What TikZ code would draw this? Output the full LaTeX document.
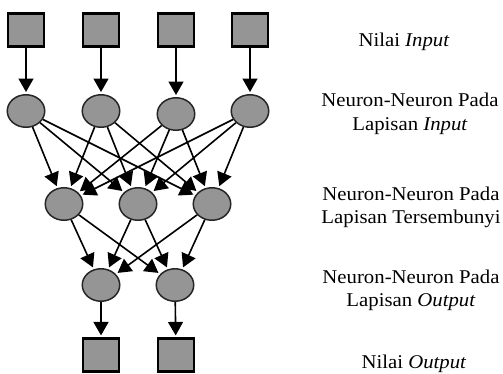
\documentclass[tikz,border=0pt]{standalone}
\usepackage{fontspec}
\setmainfont{Liberation Serif}[FakeStretch=1.065]
\usetikzlibrary{arrows.meta,shapes.geometric}
\definecolor{nodegray}{HTML}{959595}
\tikzset{
  valbox/.style={rectangle,draw=black,line width=2.2pt,fill=nodegray,minimum width=36pt,minimum height=33pt,inner sep=0pt},
  neuron/.style={ellipse,draw=black!85,line width=1.5pt,fill=nodegray,minimum width=37.5pt,minimum height=32.5pt,inner sep=0pt},
  conn/.style={line width=1.6pt,-{Triangle[length=13.5pt,width=15pt]},shorten >=2pt},
  lab/.style={anchor=base,inner sep=0pt,font=\fontsize{19.5}{23.5}\selectfont}
}
\begin{document}
\begin{tikzpicture}[x=1pt,y=-1pt]
\useasboundingbox (0,0) rectangle (503,373);
% input values
\node[valbox] (i1) at (26,30) {};
\node[valbox] (i2) at (101,30) {};
\node[valbox] (i3) at (176,30) {};
\node[valbox] (i4) at (250,30) {};
% input layer
\node[neuron] (a1) at (26,111) {};
\node[neuron] (a2) at (101,111) {};
\node[neuron] (a3) at (176,114) {};
\node[neuron] (a4) at (250,111) {};
% hidden layer
\node[neuron] (h1) at (64,204) {};
\node[neuron] (h2) at (138,204) {};
\node[neuron] (h3) at (212,204) {};
% output layer
\node[neuron] (o1) at (101,285) {};
\node[neuron] (o2) at (175,285) {};
% output values
\node[valbox] (v1) at (101,355) {};
\node[valbox] (v2) at (176,355) {};
% connectors
\foreach \k in {1,2,3,4} \draw[conn] (i\k) -- (a\k);
\foreach \k in {1,2,3,4} \foreach \m in {1,2,3} \draw[conn] (a\k) -- (h\m);
\foreach \k in {1,2,3} \foreach \m in {1,2} \draw[conn] (h\k) -- (o\m);
\draw[conn] (o1) -- (v1);
\draw[conn] (o2) -- (v2);
% labels
\node[lab] (t1) at (404,46) {Nilai \textit{Input}};
\node[lab] (t2a) at (410,106) {Neuron-Neuron Pada};
\node[lab] (t2b) at (410,130) {Lapisan \textit{Input}};
\node[lab] (t3a) at (411,200) {Neuron-Neuron Pada};
\node[lab] (t3b) at (411,223.5) {Lapisan Tersembunyi};
\node[lab] (t4a) at (411,283) {Neuron-Neuron Pada};
\node[lab] (t4b) at (411,306.5) {Lapisan \textit{Output}};
\node[lab] (t5) at (414,368) {Nilai \textit{Output}};
\end{tikzpicture}
\end{document}
